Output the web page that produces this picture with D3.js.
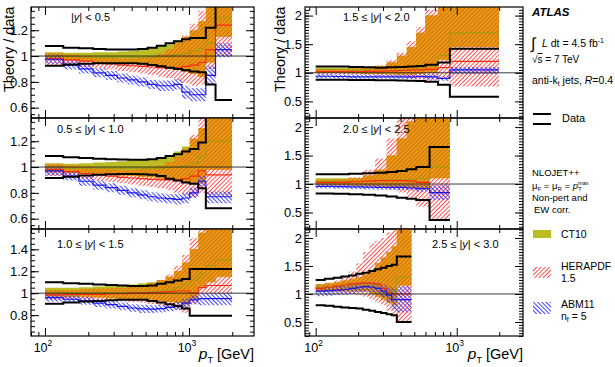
<!DOCTYPE html>
<html>
<head>
<meta charset="utf-8">
<script src="https://d3js.org/d3.v7.min.js"></script>
<style>
body { margin: 0; background: #fff; }
svg { font-family: "Liberation Sans", Arial, sans-serif; }
</style>
</head>
<body>
<svg id="chart" width="615" height="367"></svg>
<script>
// rapidity bins (panel labels)
var rapLow = ["", "0.5", "1.0", "1.5", "2.0", "2.5"];
var rapHigh = ["0.5", "1.0", "1.5", "2.0", "2.5", "3.0"];

// pT bin edges per panel [GeV]
var edges = [
    [100,134,172,216,264,318,376,442,516,598,688,786,894,1012,1162,1310,1530,1992],
    [100,134,172,216,264,318,376,442,516,598,688,786,894,1012,1162,1310,1530,1992],
    [100,134,172,216,264,318,376,442,516,598,688,786,894,1012,1162,1310,1530,1992],
    [100,134,172,216,264,318,376,442,516,598,736,894,1992],
    [100,134,172,216,264,318,376,442,516,642,894],
    [100,116,134,152,172,194,216,240,264,290,318,346,376,478]
];

// data total uncertainty (black lines)
var dataHi = [
    [1.077,1.065,1.06,1.055,1.05,1.05,1.05,1.055,1.065,1.08,1.10,1.115,1.13,1.14,1.14,1.22,1.6],
    [1.085,1.075,1.07,1.065,1.06,1.058,1.056,1.056,1.06,1.07,1.085,1.1,1.12,1.14,1.19,1.6,1.6],
    [1.1,1.09,1.085,1.08,1.075,1.07,1.065,1.065,1.07,1.085,1.1,1.115,1.13,1.22,1.22,1.22,1.22],
    [1.11,1.11,1.1,1.095,1.09,1.095,1.1,1.11,1.12,1.14,1.18,1.42],
    [1.17,1.17,1.18,1.19,1.2,1.21,1.23,1.26,1.3,1.65],
    [1.25,1.27,1.29,1.31,1.33,1.36,1.38,1.41,1.44,1.47,1.5,1.52,1.67]
];
var dataLo = [
    [0.925,0.935,0.94,0.945,0.945,0.945,0.945,0.94,0.93,0.92,0.91,0.9,0.89,0.88,0.875,0.78,0.66],
    [0.915,0.925,0.935,0.94,0.945,0.946,0.946,0.945,0.94,0.93,0.91,0.895,0.88,0.87,0.835,0.68,0.68],
    [0.905,0.915,0.925,0.93,0.935,0.94,0.94,0.94,0.93,0.915,0.9,0.88,0.86,0.795,0.795,0.795,0.795],
    [0.88,0.88,0.875,0.875,0.87,0.87,0.865,0.86,0.855,0.845,0.79,0.58],
    [0.835,0.83,0.82,0.81,0.8,0.78,0.76,0.74,0.72,0.37],
    [0.8,0.79,0.77,0.76,0.75,0.74,0.72,0.7,0.68,0.66,0.64,0.62,0.5]
];

// CT10
var ct10Mid = [
    [1.0,0.995,0.99,0.99,0.99,0.99,0.99,0.99,0.99,0.995,1.0,1.01,1.02,1.04,1.06,1.1,1.3],
    [0.995,0.99,0.99,0.99,0.99,0.99,0.99,0.99,0.99,0.99,0.995,1.0,1.01,1.03,1.08,1.2,1.2],
    [1.01,1.005,1.005,1.005,1.005,1.005,1.01,1.01,1.015,1.02,1.03,1.05,1.08,1.12,1.18,1.25,1.3],
    [1.05,1.05,1.045,1.045,1.04,1.04,1.05,1.06,1.08,1.12,1.3,1.7],
    [1.05,1.05,1.05,1.05,1.06,1.07,1.07,1.08,1.1,1.3],
    [1.12,1.13,1.14,1.15,1.16,1.17,1.18,1.17,1.15,1.1,1.05,1.05,1.3]
];
var ct10Hi = [
    [1.03,1.025,1.025,1.03,1.03,1.035,1.04,1.05,1.06,1.075,1.09,1.12,1.15,1.2,1.27,1.5,1.6],
    [1.03,1.025,1.03,1.035,1.04,1.045,1.05,1.055,1.06,1.07,1.09,1.12,1.16,1.22,1.3,1.6,1.6],
    [1.05,1.05,1.055,1.06,1.065,1.07,1.08,1.09,1.1,1.12,1.15,1.2,1.28,1.4,1.55,1.7,1.8],
    [1.09,1.09,1.09,1.1,1.12,1.18,1.3,1.45,1.7,2.0,2.5,2.5],
    [1.1,1.1,1.1,1.15,1.25,1.5,1.8,2.1,2.5,2.5],
    [1.18,1.19,1.21,1.24,1.27,1.3,1.35,1.42,1.55,1.65,1.75,1.85,2.5]
];
var ct10Lo = [
    [0.97,0.965,0.96,0.955,0.95,0.945,0.94,0.935,0.93,0.92,0.91,0.9,0.88,0.86,0.84,0.95,1.15],
    [0.96,0.955,0.95,0.945,0.94,0.935,0.93,0.925,0.92,0.91,0.9,0.89,0.88,0.87,0.88,0.98,0.98],
    [0.97,0.965,0.965,0.96,0.955,0.95,0.945,0.94,0.935,0.93,0.92,0.91,0.9,0.95,1.05,1.1,1.15],
    [1.0,0.995,0.99,0.985,0.98,0.975,0.97,0.97,0.98,1.0,1.23,1.45],
    [0.98,0.98,0.975,0.97,0.96,0.95,0.94,0.93,0.92,1.1],
    [1.04,1.05,1.05,1.05,1.05,1.05,1.05,1.0,0.95,0.9,0.85,0.8,1.15]
];

// HERAPDF 1.5
var heraMid = [
    [0.98,0.97,0.96,0.95,0.94,0.93,0.925,0.92,0.915,0.91,0.91,0.91,0.92,0.93,0.95,1.05,1.24],
    [0.98,0.965,0.95,0.94,0.93,0.92,0.915,0.91,0.905,0.9,0.9,0.9,0.91,0.93,0.97,0.94,0.94],
    [0.985,0.99,0.99,0.99,0.995,0.995,1.0,1.0,1.005,1.01,1.015,1.02,1.02,1.0,1.05,1.07,1.07],
    [1.02,1.02,1.02,1.025,1.03,1.035,1.04,1.045,1.05,1.06,1.09,1.2],
    [1.03,1.03,1.04,1.05,1.06,1.06,1.06,1.05,1.03,0.85],
    [1.1,1.12,1.14,1.16,1.18,1.19,1.2,1.19,1.17,1.1,1.03,1.0,1.0]
];
var heraHi = [
    [1.02,1.01,1.0,0.99,0.985,0.98,0.98,0.99,1.0,1.02,1.05,1.1,1.16,1.25,1.35,1.6,1.6],
    [1.02,1.01,1.0,0.99,0.985,0.98,0.98,0.985,0.995,1.01,1.04,1.08,1.14,1.25,1.38,1.6,1.6],
    [1.03,1.03,1.035,1.04,1.045,1.05,1.06,1.07,1.09,1.12,1.17,1.25,1.35,1.5,1.7,1.8,1.8],
    [1.06,1.06,1.07,1.09,1.13,1.22,1.35,1.55,1.8,2.1,2.5,2.5],
    [1.07,1.08,1.12,1.25,1.45,1.8,2.2,2.5,2.5,2.5],
    [1.17,1.2,1.24,1.3,1.4,1.55,1.75,1.9,1.95,2.0,2.1,2.3,2.5]
];
var heraLo = [
    [0.93,0.925,0.915,0.905,0.895,0.885,0.875,0.865,0.855,0.84,0.83,0.81,0.79,0.77,0.78,0.9,1.0],
    [0.93,0.92,0.905,0.895,0.885,0.875,0.865,0.855,0.845,0.835,0.82,0.8,0.78,0.77,0.8,0.78,0.78],
    [0.94,0.94,0.94,0.935,0.93,0.925,0.92,0.91,0.9,0.89,0.87,0.85,0.82,0.9,1.0,1.0,1.0],
    [0.97,0.97,0.965,0.96,0.95,0.94,0.92,0.9,0.88,0.86,0.9,0.76],
    [0.98,0.97,0.96,0.95,0.93,0.9,0.85,0.75,0.6,0.35],
    [1.03,1.03,1.03,1.02,1.0,0.98,0.95,0.9,0.85,0.8,0.7,0.6,0.5]
];

// ABM11 nf=5
var abmMid = [
    [0.975,0.93,0.9,0.87,0.85,0.83,0.815,0.8,0.78,0.77,0.77,0.78,0.72,0.7,0.7,0.85,1.05],
    [0.97,0.93,0.89,0.86,0.84,0.82,0.8,0.785,0.77,0.76,0.755,0.75,0.76,0.8,0.89,0.77,0.77],
    [0.96,0.945,0.93,0.91,0.895,0.88,0.865,0.858,0.855,0.86,0.87,0.885,0.91,0.94,0.95,0.95,0.95],
    [0.94,0.935,0.93,0.93,0.93,0.93,0.93,0.93,0.935,0.93,0.9,1.05],
    [0.96,0.955,0.95,0.945,0.94,0.94,0.94,0.93,0.92,0.85],
    [1.05,1.06,1.07,1.08,1.1,1.12,1.13,1.12,1.1,1.05,0.98,0.9,0.9]
];
var abmHi = [
    [1.01,0.965,0.935,0.905,0.885,0.865,0.85,0.835,0.815,0.81,0.81,0.82,0.77,0.75,0.75,0.92,1.1],
    [1.005,0.965,0.925,0.895,0.875,0.855,0.835,0.82,0.805,0.795,0.79,0.79,0.8,0.84,0.93,0.81,0.81],
    [0.995,0.98,0.965,0.945,0.93,0.915,0.9,0.895,0.89,0.895,0.905,0.925,0.95,0.98,1.0,1.0,1.0],
    [0.975,0.97,0.965,0.965,0.965,0.965,0.97,0.97,0.975,0.975,0.94,1.1],
    [1.0,0.995,0.99,0.99,0.985,0.99,0.99,0.985,0.98,0.98],
    [1.13,1.14,1.15,1.16,1.18,1.2,1.21,1.21,1.2,1.16,1.12,1.1,1.14]
];
var abmLo = [
    [0.94,0.895,0.865,0.835,0.815,0.795,0.78,0.765,0.745,0.73,0.73,0.74,0.67,0.65,0.65,0.78,0.99],
    [0.935,0.895,0.855,0.825,0.805,0.785,0.765,0.75,0.735,0.725,0.72,0.71,0.72,0.76,0.85,0.72,0.72],
    [0.925,0.91,0.895,0.875,0.86,0.845,0.83,0.82,0.82,0.825,0.835,0.845,0.87,0.9,0.89,0.89,0.89],
    [0.905,0.9,0.895,0.895,0.895,0.895,0.89,0.89,0.895,0.885,0.86,0.98],
    [0.92,0.915,0.91,0.905,0.9,0.9,0.895,0.885,0.87,0.72],
    [0.96,0.97,0.98,0.99,1.01,1.03,1.04,1.03,1.0,0.94,0.85,0.72,0.67]
];

// axis ticks
var yMajor = [
    [0.6,0.8,1,1.2],
    [0.6,0.8,1,1.2],
    [0.8,1,1.2,1.4],
    [0.5,1,1.5,2],
    [0.5,1,1.5,2],
    [0.5,1,1.5,2]
];
var xMajor = [100, 1000];
var xMajorExp = ["2", "3"];
var xMinor = [80,90,200,300,400,500,600,700,800,900,2000];

// layout
var colX = [[31, 254], [305, 523]];
var xDomains = [[80, 2830], [84, 2950]];
var rowY = [7, 118, 229, 336];
var yDomains = [[0.52,1.38],[0.52,1.38],[0.61,1.585],[0.21,2.15],[0.21,2.16],[0.25,2.16]];
var yMinorStep = [0.05, 0.05, 0.05, 0.05, 0.05, 0.05];
var labelPos = [[71,21],[57,133],[57,248],[343,21],[343,133],[432,248]];

var svg = d3.select('#chart');
var defs = svg.append('defs');

function makeHatch(id, color, angle, bg, w) {
    var p = defs.append('pattern')
        .attr('id', id)
        .attr('patternUnits', 'userSpaceOnUse')
        .attr('width', 3).attr('height', 3)
        .attr('patternTransform', 'rotate(' + angle + ')');
    if (bg) p.append('rect').attr('width', 3).attr('height', 3).attr('fill', bg);
    p.append('line')
        .attr('x1', 1.5).attr('y1', 0).attr('x2', 1.5).attr('y2', 3)
        .attr('stroke', color).attr('stroke-width', w);
}
makeHatch('hatchRed', '#ff3c3c', 45, null, 0.9);
makeHatch('hatchOrange', '#c4680a', 45, '#ec9a16', 0.8);
makeHatch('hatchBlue', '#2f2fff', -45, null, 0.9);

var ct10Fill = '#bcbc24';

function bandPts(e, lo, hi) {
    var pts = [];
    for (var i = 0; i < lo.length; i++) {
        pts.push({ e: e[i], lo: lo[i], hi: hi[i] });
        pts.push({ e: e[i + 1], lo: lo[i], hi: hi[i] });
    }
    return pts;
}
function linePts(e, v) {
    var pts = [];
    for (var i = 0; i < v.length; i++) {
        pts.push({ e: e[i], v: v[i] });
        pts.push({ e: e[i + 1], v: v[i] });
    }
    return pts;
}

for (var p = 0; p < 6; p++) {
    var col = p < 3 ? 0 : 1, row = p % 3;
    var x0 = colX[col][0], x1 = colX[col][1], y0 = rowY[row], y1 = rowY[row + 1];
    var x = d3.scaleLog().domain(xDomains[col]).range([x0, x1]);
    var y = d3.scaleLinear().domain(yDomains[p]).range([y1, y0]);

    var area = d3.area()
        .x(function (d) { return x(d.e); })
        .y0(function (d) { return y(d.lo); })
        .y1(function (d) { return y(d.hi); });
    var line = d3.line()
        .x(function (d) { return x(d.e); })
        .y(function (d) { return y(d.v); });

    defs.append('clipPath').attr('id', 'clip' + p)
        .append('rect').attr('x', x0).attr('y', y0).attr('width', x1 - x0).attr('height', y1 - y0);
    var ct10Path = area(bandPts(edges[p], ct10Lo[p], ct10Hi[p]));
    defs.append('clipPath').attr('id', 'ctclip' + p)
        .append('path').attr('d', ct10Path);

    var g = svg.append('g').attr('clip-path', 'url(#clip' + p + ')');

    g.append('path').attr('d', ct10Path).attr('fill', ct10Fill);
    var heraPath = area(bandPts(edges[p], heraLo[p], heraHi[p]));
    g.append('path').attr('d', heraPath).attr('fill', 'url(#hatchRed)');
    g.append('g').attr('clip-path', 'url(#ctclip' + p + ')')
        .append('path').attr('d', heraPath).attr('fill', 'url(#hatchOrange)');
    g.append('path').attr('d', area(bandPts(edges[p], abmLo[p], abmHi[p])))
        .attr('fill', 'url(#hatchBlue)');

    g.append('path').attr('d', line(linePts(edges[p], ct10Mid[p])))
        .attr('fill', 'none').attr('stroke', '#9c9c10').attr('stroke-width', 1);
    g.append('path').attr('d', line(linePts(edges[p], heraMid[p])))
        .attr('fill', 'none').attr('stroke', '#ff2a10').attr('stroke-width', 1.2);
    g.append('path').attr('d', line(linePts(edges[p], abmMid[p])))
        .attr('fill', 'none').attr('stroke', '#1a1ae6').attr('stroke-width', 1.2);

    g.append('path').attr('d', line(linePts(edges[p], dataHi[p])))
        .attr('fill', 'none').attr('stroke', '#000').attr('stroke-width', 2);
    g.append('path').attr('d', line(linePts(edges[p], dataLo[p])))
        .attr('fill', 'none').attr('stroke', '#000').attr('stroke-width', 2);

    g.append('line')
        .attr('x1', x0).attr('x2', x1).attr('y1', y(1)).attr('y2', y(1))
        .attr('stroke', '#222').attr('stroke-width', 0.9);

    // frame
    svg.append('rect')
        .attr('x', x0).attr('y', y0).attr('width', x1 - x0).attr('height', y1 - y0)
        .attr('fill', 'none').attr('stroke', '#000').attr('stroke-width', 1.2);

    var dom = yDomains[p];
    var yMinor = d3.range(Math.ceil(dom[0] / yMinorStep[p]) * yMinorStep[p], dom[1], yMinorStep[p]);
    var xMin = xMinor.filter(function (v) { return v >= xDomains[col][0] && v <= xDomains[col][1]; });

    var axL = svg.append('g').attr('transform', 'translate(' + x0 + ',0)')
        .call(d3.axisLeft(y).tickValues(yMajor[p]).tickSize(-8).tickPadding(3).tickFormat(d3.format('~g')));
    axL.attr('font-size', 13).attr('font-family', '"Liberation Sans", Arial, sans-serif');
    axL.select('.domain').remove();
    svg.append('g').attr('transform', 'translate(' + x0 + ',0)')
        .call(d3.axisLeft(y).tickValues(yMinor).tickSize(-4).tickFormat(''))
        .select('.domain').remove();
    svg.append('g').attr('transform', 'translate(' + x1 + ',0)')
        .call(d3.axisRight(y).tickValues(yMajor[p]).tickSize(-8).tickFormat(''))
        .select('.domain').remove();
    svg.append('g').attr('transform', 'translate(' + x1 + ',0)')
        .call(d3.axisRight(y).tickValues(yMinor).tickSize(-4).tickFormat(''))
        .select('.domain').remove();

    svg.append('g').attr('transform', 'translate(0,' + y1 + ')')
        .call(d3.axisBottom(x).tickValues(xMajor).tickSize(-8).tickFormat(''))
        .select('.domain').remove();
    svg.append('g').attr('transform', 'translate(0,' + y1 + ')')
        .call(d3.axisBottom(x).tickValues(xMin).tickSize(-4).tickFormat(''))
        .select('.domain').remove();
    svg.append('g').attr('transform', 'translate(0,' + y0 + ')')
        .call(d3.axisTop(x).tickValues(xMajor).tickSize(-8).tickFormat(''))
        .select('.domain').remove();
    svg.append('g').attr('transform', 'translate(0,' + y0 + ')')
        .call(d3.axisTop(x).tickValues(xMin).tickSize(-4).tickFormat(''))
        .select('.domain').remove();

    // panel label
    var lab = svg.append('text')
        .attr('x', labelPos[p][0]).attr('y', labelPos[p][1])
        .attr('font-size', 11);
    if (rapLow[p] !== "") lab.append('tspan').text(rapLow[p] + ' \u2264 ');
    lab.append('tspan').text('|');
    lab.append('tspan').attr('font-style', 'italic').text('y');
    lab.append('tspan').text('| < ' + rapHigh[p]);

    if (row === 2) {
        xMajor.forEach(function (v, i) {
            var t = svg.append('text')
                .attr('x', x(v) - 2).attr('y', 352)
                .attr('text-anchor', 'middle').attr('font-size', 12.5);
            t.append('tspan').text('10');
            t.append('tspan').attr('font-size', 8.5).attr('dy', -6).text(xMajorExp[i]);
        });
        var xt = svg.append('text')
            .attr('x', x1).attr('y', 359)
            .attr('text-anchor', 'end').attr('font-size', 14.5);
        xt.append('tspan').attr('font-style', 'italic').attr('font-size', 15.5).text('p');
        xt.append('tspan').attr('font-size', 9).attr('dy', 4).text('T');
        xt.append('tspan').attr('dy', -4).text(' [GeV]');
    }
}

// y titles
[14, 285].forEach(function (bx) {
    svg.append('text')
        .attr('transform', 'translate(' + bx + ',92) rotate(-90)')
        .attr('font-size', 14.5)
        .text('Theory / data');
});

// legend / annotations
var lx = 532;
var leg = svg.append('g').attr('font-size', 10.5);
leg.append('text').attr('x', lx).attr('y', 16)
    .attr('font-weight', 'bold').attr('font-style', 'italic').attr('font-size', 11.5)
    .text('ATLAS');
leg.append('text').attr('x', lx - 1).attr('y', 49).attr('font-size', 16).text('\u222B');
var lum = leg.append('text').attr('x', lx + 10).attr('y', 47);
lum.append('tspan').attr('font-style', 'italic').text('L');
lum.append('tspan').text(' dt = 4.5 fb');
lum.append('tspan').attr('font-size', 7).attr('dy', -4).text('-1');
var rs = leg.append('text').attr('x', lx).attr('y', 63).attr('font-size', 10);
rs.append('tspan').text('\u221A');
rs.append('tspan').attr('text-decoration', 'overline').text('s');
rs.append('tspan').text(' = 7 TeV');
var ak = leg.append('text').attr('x', lx).attr('y', 84);
ak.append('tspan').text('anti-k');
ak.append('tspan').attr('font-size', 7).attr('dy', 2).text('t');
ak.append('tspan').attr('dy', -2).text(' jets,  ');
ak.append('tspan').attr('font-style', 'italic').text('R');
ak.append('tspan').text('=0.4');

leg.append('line').attr('x1', lx + 1).attr('x2', lx + 19).attr('y1', 114).attr('y2', 114)
    .attr('stroke', '#000').attr('stroke-width', 2);
leg.append('line').attr('x1', lx + 1).attr('x2', lx + 19).attr('y1', 124).attr('y2', 124)
    .attr('stroke', '#000').attr('stroke-width', 2);
leg.append('text').attr('x', lx + 30).attr('y', 122).attr('font-size', 11).text('Data');

var small = leg.append('g').attr('font-size', 9.5);
small.append('text').attr('x', lx).attr('y', 176).text('NLOJET++');
var mu = small.append('text').attr('x', lx).attr('y', 189);
mu.append('tspan').text('\u03BC');
mu.append('tspan').attr('font-size', 6).attr('dy', 2).text('F');
mu.append('tspan').attr('dy', -2).text(' = \u03BC');
mu.append('tspan').attr('font-size', 6).attr('dy', 2).text('R');
mu.append('tspan').attr('dy', -2).text(' = ');
mu.append('tspan').attr('font-style', 'italic').text('p');
mu.append('tspan').attr('font-size', 6).attr('dy', 2).text('T');
mu.append('tspan').attr('font-size', 5.5).attr('dx', -3.5).attr('dy', -6).text('max');
small.append('text').attr('x', lx).attr('y', 201).text('Non-pert and');
small.append('text').attr('x', lx + 2).attr('y', 213).text('EW corr.');

leg.append('rect').attr('x', lx + 1).attr('y', 230).attr('width', 18).attr('height', 8)
    .attr('fill', ct10Fill);
leg.append('text').attr('x', lx + 29).attr('y', 237.5).text('CT10');

leg.append('rect').attr('x', lx + 1).attr('y', 267).attr('width', 18).attr('height', 11)
    .attr('fill', 'url(#hatchRed)');
leg.append('text').attr('x', lx + 29).attr('y', 270).text('HERAPDF');
leg.append('text').attr('x', lx + 29).attr('y', 282).text('1.5');

leg.append('rect').attr('x', lx + 1).attr('y', 302).attr('width', 18).attr('height', 12)
    .attr('fill', 'url(#hatchBlue)');
leg.append('text').attr('x', lx + 29).attr('y', 308).text('ABM11');
var nf = leg.append('text').attr('x', lx + 29).attr('y', 320);
nf.append('tspan').text('n');
nf.append('tspan').attr('font-size', 7).attr('dy', 2).text('f');
nf.append('tspan').attr('dy', -2).text(' = 5');
</script>
</body>
</html>
